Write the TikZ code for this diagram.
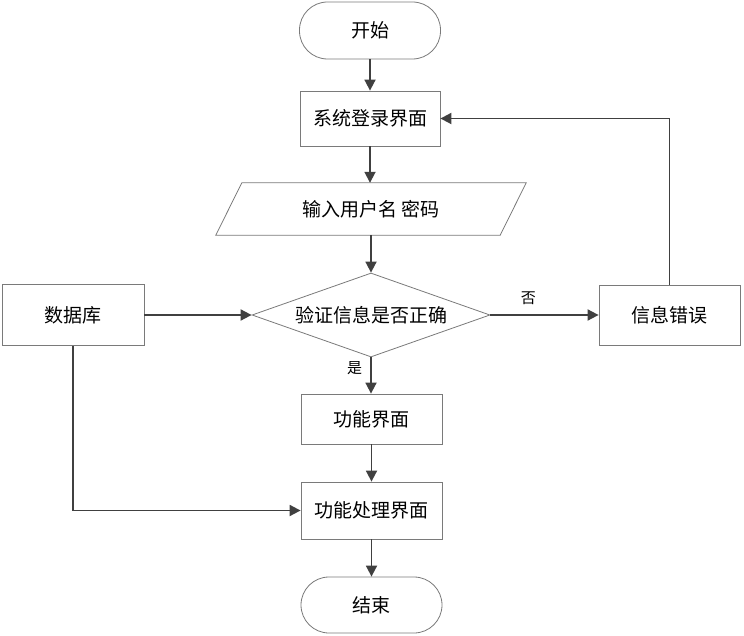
\documentclass[tikz,border=0pt]{standalone}
\usepackage{fontspec}
\newfontfamily\cjk{Noto Sans CJK SC}
\usetikzlibrary{arrows.meta,shapes.geometric}
\definecolor{boxline}{HTML}{7A7A7A}
\definecolor{arrowline}{HTML}{404040}
\tikzset{
  box/.style={draw=boxline, line width=0.8pt, fill=white, rectangle, inner sep=0pt, font=\cjk\fontsize{19}{22}\selectfont},
  term/.style={box, rounded corners=28pt},
  decision/.style={draw=boxline, line width=0.8pt, fill=white, diamond, shape aspect=2.8, inner sep=0pt, minimum width=238pt, minimum height=84pt, font=\cjk\fontsize{19}{22}\selectfont},
  arr/.style={draw=arrowline, line width=1.8pt, -{Triangle[length=11pt,width=11pt]}},
  lab/.style={font=\cjk\fontsize{15}{18}\selectfont, inner sep=0pt}
}
\begin{document}
\begin{tikzpicture}[x=1pt,y=-1pt]
\useasboundingbox (0,0) rectangle (744,636);
\node[term, minimum width=141pt, minimum height=57pt] (start) at (370,30.5) {开始};
\node[box, minimum width=140pt, minimum height=55pt] (login) at (370,118.5) {系统登录界面};
\node[rectangle, inner sep=0pt, minimum width=284pt, minimum height=52pt, font=\cjk\fontsize{19}{22}\selectfont] (input) at (371,209) {输入用户名 密码};
\draw[draw=boxline, line width=0.8pt] ([xshift=13pt]input.north west) -- ([xshift=13pt]input.north east) -- ([xshift=-13pt]input.south east) -- ([xshift=-13pt]input.south west) -- cycle;
\node[decision] (check) at (371,315) {验证信息是否正确};
\node[box, minimum width=142pt, minimum height=61pt] (db) at (73,315) {数据库};
\node[box, minimum width=141pt, minimum height=60pt] (err) at (669.5,315) {信息错误};
\node[box, minimum width=141pt, minimum height=50pt] (func) at (371.5,419) {功能界面};
\node[box, minimum width=141pt, minimum height=57pt] (proc) at (371.5,510.5) {功能处理界面};
\node[term, minimum width=141pt, minimum height=56pt] (end) at (371.5,605) {结束};

\draw[arr] (start.south) -- (login.north);
\draw[arr] (login.south) -- (login.south |- input.north);
\draw[arr] (input.south) -- (check.north);
\draw[arr] (check.south) -- node[lab, pos=0.3, left=8pt] {是} (check.south |- func.north);
\draw[arr] (func.south) -- (proc.north);
\draw[arr] (proc.south) -- (end.north);
\draw[arr] (db.east) -- (check.west);
\draw[arr] (check.east) -- node[lab, above=9pt, pos=0.35] {否} (err.west);
\draw[arr] (err.north) |- (login.east);
\draw[arr] (db.south) |- (proc.west);
\end{tikzpicture}
\end{document}
